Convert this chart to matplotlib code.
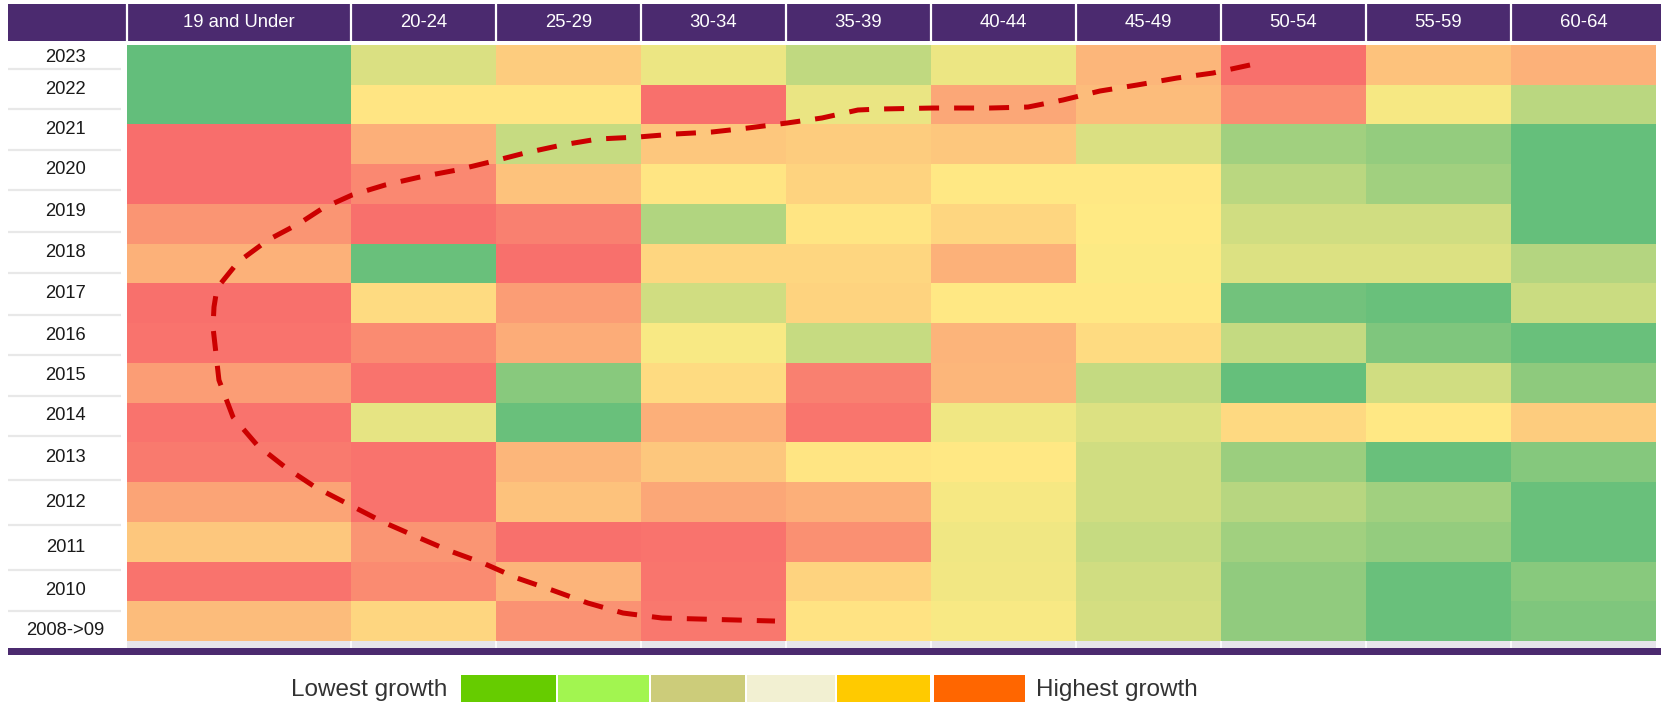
import matplotlib
matplotlib.use("Agg")
import matplotlib.pyplot as plt
import numpy as np
from matplotlib.colors import LinearSegmentedColormap
from matplotlib.patches import Rectangle

plt.rcParams['font.family'] = ['Liberation Sans', 'DejaVu Sans']

# ---------------- data ----------------
age_groups = ["19 and Under", "20-24", "25-29", "30-34", "35-39",
              "40-44", "45-49", "50-54", "55-59", "60-64"]
years = ["2023", "2022", "2021", "2020", "2019", "2018", "2017", "2016",
         "2015", "2014", "2013", "2012", "2011", "2010", "2008->09"]

# relative growth score (0 = lowest growth, 100 = highest), 2023 -> 2008->09
g_19_under = [0, 0, 98, 98, 83, 72, 97, 96, 80, 96, 93, 77, 64, 96, 68]
g_20_24 = [38, 52, 73, 88, 97, 2, 56, 87, 96, 42, 96, 96, 83, 87, 58]
g_25_29 = [62, 52, 32, 66, 91, 97, 80, 74, 12, 2, 70, 66, 97, 71, 84]
g_30_34 = [44, 97, 64, 52, 25, 58, 35, 48, 56, 73, 64, 76, 96, 95, 94]
g_35_39 = [30, 43, 62, 59, 52, 58, 59, 32, 91, 95, 52, 73, 85, 59, 53]
g_40_44 = [44, 76, 64, 51, 58, 72, 51, 71, 70, 45, 51, 47, 45, 46, 48]
g_45_49 = [70, 68, 38, 51, 50, 49, 51, 56, 31, 39, 35, 35, 32, 35, 36]
g_50_54 = [97, 86, 20, 28, 35, 39, 5, 31, 1, 57, 18, 27, 20, 15, 15]
g_55_59 = [66, 47, 16, 20, 35, 39, 2, 9, 35, 51, 2, 20, 16, 2, 2]
g_60_64 = [72, 28, 1, 1, 1, 26, 33, 2, 14, 62, 11, 2, 2, 12, 9]

# hand-drawn dashed trend curve (x in column units, y in row units from top)
curve_x = [7.745, 7.490, 7.241, 6.966, 6.710, 6.455, 6.214, 5.952, 5.559,
           5.193, 5.041, 4.793, 4.552, 4.283, 4.034, 3.779, 3.524, 3.248,
           3.000, 2.745, 2.503, 2.276, 2.021, 1.779, 1.552, 1.352, 1.193,
           0.972, 0.766, 0.621, 0.600, 0.593, 0.607, 0.634, 0.731, 0.897,
           1.090, 1.297, 1.538, 1.766, 1.986, 2.228, 2.455, 2.690, 2.931,
           3.179, 3.421, 3.690, 3.952, 4.469]
curve_y = [0.503, 0.705, 0.831, 1.007, 1.158, 1.384, 1.561, 1.586, 1.586,
           1.611, 1.636, 1.837, 1.963, 2.089, 2.190, 2.240, 2.316, 2.366,
           2.517, 2.718, 2.945, 3.146, 3.322, 3.524, 3.775, 4.103, 4.480,
           4.908, 5.462, 6.116, 6.594, 7.098, 7.551, 8.432, 9.363, 10.068,
           10.622, 11.125, 11.578, 12.006, 12.358, 12.736, 13.038, 13.416,
           13.718, 14.045, 14.296, 14.422, 14.447, 14.498]

legend_low = "Lowest growth"
legend_high = "Highest growth"
legend_colors = ["#66CC00", "#A2F550", "#CCCC7A", "#F2F0D2", "#FFCA00", "#FF6600"]

# ---------------- layout / style ----------------
W, H = 1661, 703
PURPLE = "#4B2A6F"
col_widths = [1.545] + [1.0] * 9
label_heights = [24, 40, 41, 40, 42, 41, 42, 40, 41, 40, 44, 45, 45, 41, 39]
cmap = LinearSegmentedColormap.from_list("gyr", ["#63BE7B", "#FFEB84", "#F8696B"])


def fig_rect(x0, y0, x1, y1):
    return [x0 / W, 1 - y1 / H, (x1 - x0) / W, (y1 - y0) / H]


fig = plt.figure(figsize=(W / 100, H / 100), dpi=100)
fig.patch.set_facecolor("white")

# ---------------- heatmap ----------------
values = np.array([g_19_under, g_20_24, g_25_29, g_30_34, g_35_39,
                   g_40_44, g_45_49, g_50_54, g_55_59, g_60_64]).T
x_edges = np.concatenate([[0], np.cumsum(col_widths)])
y_edges = np.arange(len(years) + 1)

ax = fig.add_axes(fig_rect(127, 45, 1656, 641))
ax.pcolormesh(x_edges, y_edges, values, cmap=cmap, vmin=0, vmax=100,
              shading="flat", edgecolor="none")
ax.set_xlim(x_edges[0], x_edges[-1])
ax.set_ylim(len(years), 0)
ax.axis("off")
ax.plot(curve_x, curve_y, color="#CC0000", lw=3.6, linestyle=(0, (4, 3)),
        dash_capstyle="butt", solid_joinstyle="round", clip_on=False, zorder=5)

# ---------------- header ----------------
px_per_unit = (1656 - 127) / x_edges[-1]
hx = fig.add_axes(fig_rect(8, 4, 1661, 41))
hx.set_facecolor(PURPLE)
hx.set_xlim((8 - 127) / px_per_unit, (1661 - 127) / px_per_unit)
hx.set_ylim(0, 1)
hx.set_xticks([]); hx.set_yticks([])
for s in hx.spines.values():
    s.set_visible(False)
for xe in x_edges[:-1]:
    hx.axvline(xe, color="white", lw=1.6)
centers = (x_edges[:-1] + x_edges[1:]) / 2
for c, name in zip(centers, age_groups):
    hx.text(c, 0.5, name, color="white", fontsize=13.3, ha="center", va="center")

# ---------------- row labels ----------------
lx = fig.add_axes(fig_rect(8, 45, 121, 650))
lx.set_xlim(0, 1)
total = sum(label_heights)
lx.set_ylim(total, 0)
lx.axis("off")
bounds = np.concatenate([[0], np.cumsum(label_heights)])
for i, yr in enumerate(years):
    lx.text(0.51, (bounds[i] + bounds[i + 1]) / 2, yr, fontsize=13.2,
            ha="center", va="center", color="#1a1a1a")
for b in bounds[1:-1]:
    lx.axhline(b, color="#E8E8E8", lw=1.6)

# ---------------- bottom strip & purple rule ----------------
bx = fig.add_axes(fig_rect(127, 641, 1656, 648))
bx.set_xlim(x_edges[0], x_edges[-1]); bx.set_ylim(0, 1)
bx.set_facecolor("#E6E5EA")
bx.set_xticks([]); bx.set_yticks([])
for s in bx.spines.values():
    s.set_visible(False)
for xe in x_edges[1:-1]:
    bx.axvline(xe, color="white", lw=1.2)

fig.add_artist(Rectangle((8 / W, 1 - 655 / H), (W - 8) / W, 7 / H,
                         transform=fig.transFigure, color=PURPLE, lw=0))

# ---------------- legend ----------------
gx = fig.add_axes(fig_rect(0, 660, 1661, 703))
gx.set_xlim(0, W); gx.set_ylim(703, 660)
gx.axis("off")
box_x = [461, 558, 651, 747, 837, 934]
box_w = [95, 91, 94, 88, 93, 91]
for x0, w, col in zip(box_x, box_w, legend_colors):
    gx.add_patch(Rectangle((x0, 675), w, 27, facecolor=col, edgecolor="none"))
gx.text(447, 690, legend_low, fontsize=17.5, ha="right", va="center", color="#333333")
gx.text(1036, 690, legend_high, fontsize=17.5, ha="left", va="center", color="#333333")

fig.savefig("out.png", dpi=100, facecolor="white")
